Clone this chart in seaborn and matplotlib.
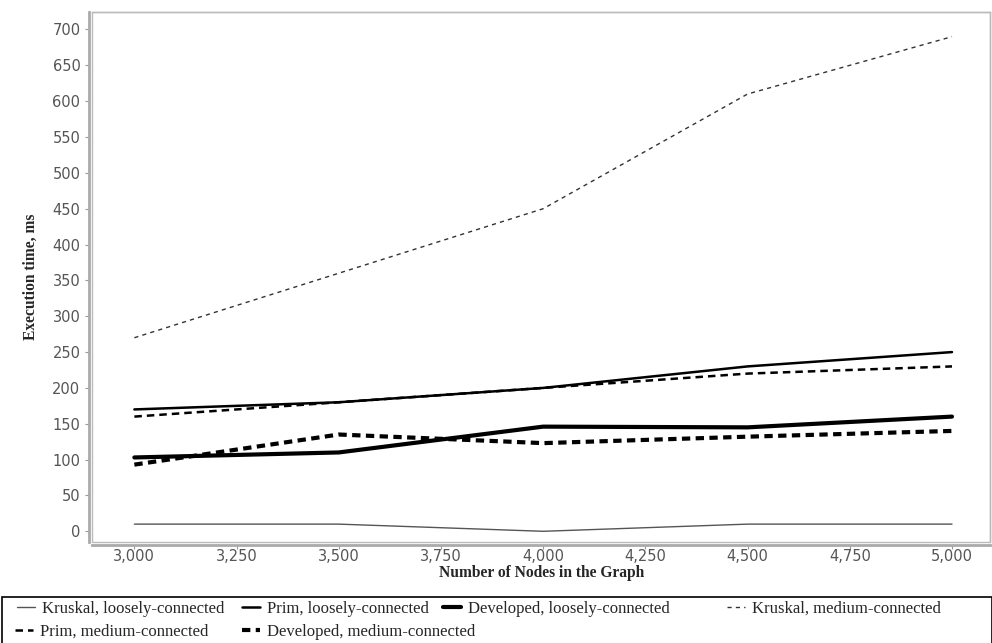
import pandas as pd
import matplotlib.pyplot as plt
import matplotlib.patches as mpatches
import seaborn as sns

nodes = [3000, 3500, 4000, 4500, 5000]
kruskal_loose = [10, 10, 0, 10, 10]
prim_loose = [170, 180, 200, 230, 250]
developed_loose = [103, 110, 146, 145, 160]
kruskal_medium = [270, 360, 450, 610, 690]
prim_medium = [160, 180, 200, 220, 230]
developed_medium = [93, 135, 123, 132, 140]

names = ['Kruskal, loosely-connected', 'Prim, loosely-connected', 'Developed, loosely-connected',
         'Kruskal, medium-connected', 'Prim, medium-connected', 'Developed, medium-connected']
series = [kruskal_loose, prim_loose, developed_loose, kruskal_medium, prim_medium, developed_medium]

rows = []
for name, vals in zip(names, series):
    for n, v in zip(nodes, vals):
        rows.append({'nodes': n, 'time': v, 'series': name})
df = pd.DataFrame(rows)

sns.set_style('white')
plt.rcParams['font.family'] = ['DejaVu Sans']

styles = {
    names[0]: dict(color='#555555', lw=1.0, ls='-'),
    names[1]: dict(color='black', lw=1.8, ls='-'),
    names[2]: dict(color='black', lw=3.0, ls='-'),
    names[3]: dict(color='#333333', lw=1.0, ls=(0, (3, 3))),
    names[4]: dict(color='black', lw=1.8, ls=(0, (3, 2))),
    names[5]: dict(color='black', lw=3.0, ls=(0, (2, 1.3))),
}

W, H = 992, 643
fig = plt.figure(figsize=(W / 100, H / 100), dpi=100)
ax = fig.add_axes([0.093, 0.157, 0.905, 0.825])

for name in names:
    sub = df[df.series == name]
    sns.lineplot(data=sub, x='nodes', y='time', ax=ax, label=name, **styles[name])

ax.set_xlim(2897, 5093)
ax.set_ylim(-15, 725)
ax.set_xticks(range(3000, 5001, 250))
ax.set_xticklabels([f'{x:,}' for x in range(3000, 5001, 250)])
ax.set_yticks(range(0, 701, 50))
ax.tick_params(axis='both', colors='#999999', labelcolor='#555555', labelsize=10.5,
               length=3, direction='out', bottom=True, left=True)
ax.tick_params(axis='x', pad=0)

# thin plot box plus slightly offset axis lines
for side in ['top', 'right']:
    ax.spines[side].set_color('#bbbbbb')
    ax.spines[side].set_linewidth(1.0)
for side in ['left', 'bottom']:
    ax.spines[side].set_position(('outward', 2))
    ax.spines[side].set_color('#aaaaaa')
    ax.spines[side].set_linewidth(2.0)
ax.add_patch(mpatches.Rectangle((0, 0), 1, 1, transform=ax.transAxes, fill=False,
                                edgecolor='#bbbbbb', lw=1.0, clip_on=False))

ax.set_xlabel('Number of Nodes in the Graph', family='Liberation Serif', fontweight='bold',
              fontsize=11.2, labelpad=1)
ax.set_ylabel('Execution time, ms', family='Liberation Serif', fontweight='bold',
              fontsize=11.2, labelpad=10)

ax.get_legend().remove()
handles, labels = ax.get_legend_handles_labels()

# legend panel at the bottom, entries laid out in two rows
fig.patches.append(mpatches.Rectangle((2 / W, -0.01), 0.998, 52 / H, transform=fig.transFigure,
                                      fill=False, edgecolor='black', lw=1.2))
spots = [(17, 609), (242, 609), (443, 609), (727, 609), (15, 632), (242, 632)]
for h, lab, (px, py) in zip(handles, labels, spots):
    lg = fig.legend([h], [lab], loc='center left', bbox_to_anchor=(px / W, 1 - py / H),
                    frameon=False, borderpad=0, borderaxespad=0, handlelength=1.1,
                    handletextpad=0.4, prop={'family': 'Liberation Serif', 'size': 12})

fig.savefig('out.png', dpi=100)
